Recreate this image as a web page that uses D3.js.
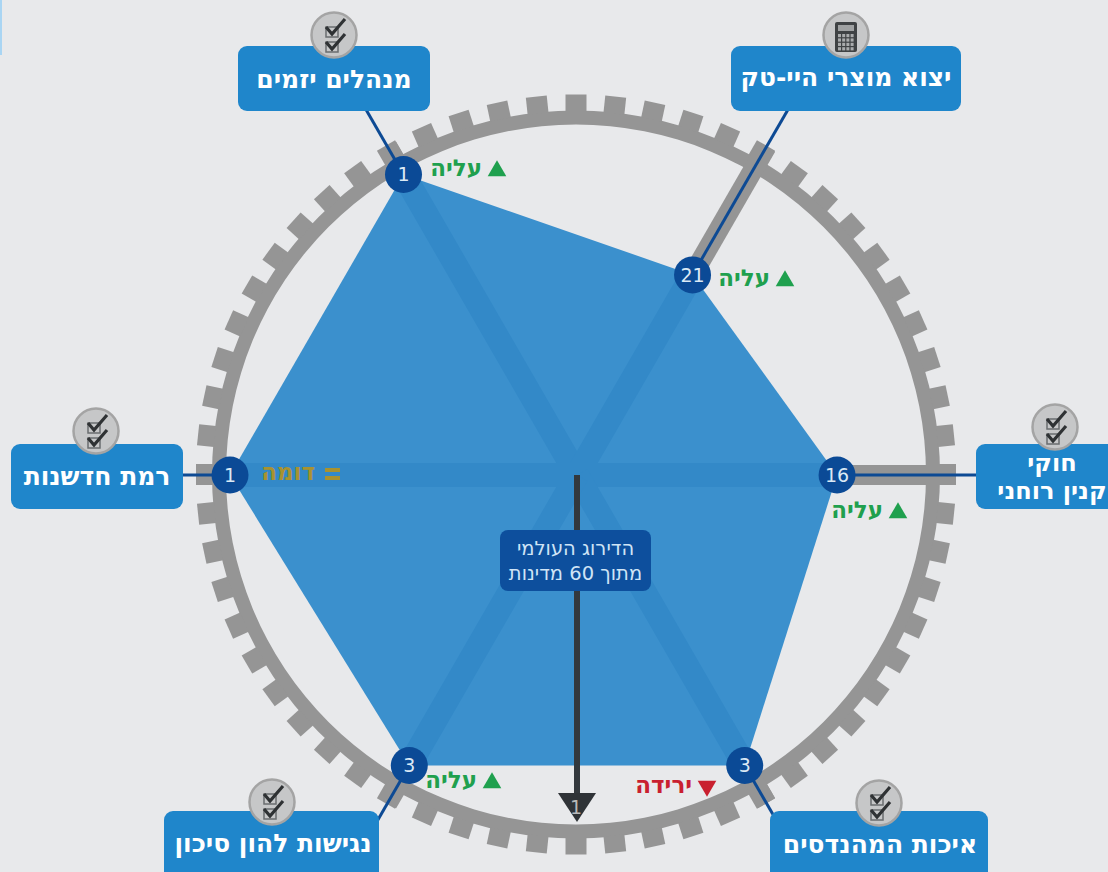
<!DOCTYPE html>
<html lang="he">
<head>
<meta charset="utf-8">
<script src="https://d3js.org/d3.v7.min.js"></script>
<style>
    html, body { margin: 0; padding: 0; background: #e8e9eb; overflow: hidden; }
    svg { display: block; font-family: "DejaVu Sans", sans-serif; }
    .boxText { fill: #fff; font-weight: bold; text-anchor: middle; direction: rtl; }
    .trendText { font-weight: bold; font-size: 23px; text-anchor: start; direction: rtl; }
    .rankText { fill: #dbe9f5; font-size: 19px; text-anchor: middle; }
    .noteText { fill: #cfe4f6; font-size: 19.5px; text-anchor: middle; direction: rtl; }
</style>
</head>
<body>
<div id="chart"></div>
<script>
// clockwise from the upper left spoke
const categories = [
    ["מנהלים יזמים"],
    ["יצוא מוצרי היי-טק"],
    ["חוקי", "קנין רוחני"],
    ["איכות המהנדסים"],
    ["נגישות להון סיכון"],
    ["רמת חדשנות"]
];
const ranks = [1, 21, 16, 3, 3, 1];
const trends = ["up", "up", "up", "down", "up", "same"];
const trendLabels = {up: "עליה", down: "ירידה", same: "דומה"};
const icons = ["check", "calc", "check", "check", "check", "check"];
const overallRank = 1;
const countryCount = 60;
const noteLines = ["הדירוג העולמי", "מתוך 60 מדינות"];

// layout only, boxes around the ring are placed by hand
const boxLayout = [
    {x: 238, y: 46, w: 192, h: 65, font: 25, textX: 334, textY: 88, icon: [334, 35], trend: [507, 169]},
    {x: 731, y: 46, w: 230, h: 65, font: 25, textX: 846, textY: 86, icon: [846, 35], trend: [795, 279]},
    {x: 976, y: 444, w: 150, h: 65, font: 24, textX: 1052, textY: 471, icon: [1055, 427], trend: [908, 511]},
    {x: 770, y: 811, w: 218, h: 80, font: 25, textX: 880, textY: 853, icon: [879, 803], trend: [717, 786]},
    {x: 164, y: 811, w: 215, h: 80, font: 25, textX: 273, textY: 852, icon: [272, 802], trend: [502, 781]},
    {x: 11, y: 444, w: 172, h: 65, font: 25, textX: 97, textY: 485, icon: [96, 431], trend: [340, 473]}
];
const trendColor = {up: "#1fa04e", down: "#c9202f", same: "#a8922f"};

const width = 1108, height = 872;
const cx = 577, cy = 475;
const ringX = 576, ringY = 474.5;
const ringInner = 350, ringOuter = 364, toothOuter = 380, connectorEnd = 440;

let svg = d3.select("#chart").append("svg")
    .attr("width", width)
    .attr("height", height);

svg.append("rect").attr("width", width).attr("height", height).attr("fill", "#e8e9eb");
svg.append("rect").attr("width", 2).attr("height", 55).attr("fill", "#a9d5f3");

let rScale = d3.scaleLinear().domain([countryCount, 1]).range([5, 347]);
let angleScale = d3.scaleLinear().domain([0, categories.length]).range([-Math.PI / 6, 2 * Math.PI - Math.PI / 6]);
let toothScale = d3.scaleLinear().domain([0, countryCount]).range([0, 360]);

function polar(i, r) {
    let a = angleScale(i);
    return [r * Math.sin(a), -r * Math.cos(a)];
}

//ring with one tooth per country
let ring = svg.append("g").attr("transform", `translate(${ringX},${ringY})`);

ring.append("path")
    .attr("d", d3.arc().innerRadius(ringInner).outerRadius(ringOuter).startAngle(0).endAngle(2 * Math.PI)())
    .attr("fill", "#959595");

ring.selectAll(".tooth")
    .data(d3.range(countryCount))
    .enter().append("rect")
    .attr("class", "tooth")
    .attr("x", -10.5)
    .attr("y", -toothOuter)
    .attr("width", 21)
    .attr("height", toothOuter - ringOuter + 1)
    .attr("transform", d => `rotate(${toothScale(d)})`)
    .attr("fill", "#959595");

let chart = svg.append("g").attr("transform", `translate(${cx},${cy})`);

//gray spokes, the polygon covers them up to each value
let spokeData = categories.map((c, i) => i);
chart.selectAll(".spoke")
    .data(spokeData)
    .enter().append("line")
    .attr("class", "spoke")
    .attr("x2", d => polar(d, toothOuter - 1)[0])
    .attr("y2", d => polar(d, toothOuter - 1)[1])
    .attr("stroke", "#959595")
    .attr("stroke-width", 20);

let radarLine = d3.line().curve(d3.curveLinearClosed);
let radarPoints = ranks.map((d, i) => polar(i, rScale(d)));

svg.append("clipPath").attr("id", "radarClip")
    .append("path").attr("d", radarLine(radarPoints));

chart.append("path")
    .attr("d", radarLine(radarPoints))
    .attr("fill", "#3b90cd");

chart.append("g").attr("clip-path", "url(#radarClip)")
    .selectAll("line")
    .data(spokeData)
    .enter().append("line")
    .attr("x2", d => polar(d, 400)[0])
    .attr("y2", d => polar(d, 400)[1])
    .attr("stroke", "#3389c8")
    .attr("stroke-width", 24);

//overall rank arrow
let arrowTip = rScale(overallRank);
chart.append("line")
    .attr("y1", 0)
    .attr("y2", arrowTip - 20)
    .attr("stroke", "#33383d")
    .attr("stroke-width", 6);

chart.append("path")
    .attr("d", d3.line()([[-19, arrowTip - 29], [19, arrowTip - 29], [0, arrowTip]]) + "Z")
    .attr("fill", "#2f3337");

chart.append("text")
    .attr("class", "rankText")
    .attr("x", -1)
    .attr("y", arrowTip - 8)
    .style("fill", "#b9b9b9")
    .text(overallRank);

//note in the middle of the arrow
svg.append("rect")
    .attr("x", 500).attr("y", 530)
    .attr("width", 151).attr("height", 61)
    .attr("rx", 8)
    .attr("fill", "#0d4f9d");

svg.selectAll(".noteText")
    .data(noteLines)
    .enter().append("text")
    .attr("class", "noteText")
    .attr("x", 575.5)
    .attr("y", (d, i) => 555 + i * 25)
    .text(d => d);

//connectors run along the spokes and end under the boxes
chart.selectAll(".connector")
    .data(ranks)
    .enter().append("line")
    .attr("class", "connector")
    .attr("x1", (d, i) => polar(i, rScale(d))[0])
    .attr("y1", (d, i) => polar(i, rScale(d))[1])
    .attr("x2", (d, i) => polar(i, connectorEnd)[0])
    .attr("y2", (d, i) => polar(i, connectorEnd)[1])
    .attr("stroke", "#0d4a94")
    .attr("stroke-width", 3);

//category boxes
let boxes = svg.selectAll(".box")
    .data(categories)
    .enter().append("g")
    .attr("class", "box");

boxes.append("rect")
    .attr("x", (d, i) => boxLayout[i].x)
    .attr("y", (d, i) => boxLayout[i].y)
    .attr("width", (d, i) => boxLayout[i].w)
    .attr("height", (d, i) => boxLayout[i].h)
    .attr("rx", 9)
    .attr("fill", "#1f86cb");

boxes.each(function (lines, i) {
    let b = boxLayout[i];
    d3.select(this).selectAll("text")
        .data(lines)
        .enter().append("text")
        .attr("class", "boxText")
        .attr("font-size", b.font)
        .attr("x", b.textX)
        .attr("y", (d, k) => b.textY + k * 28)
        .text(d => d);
});

function drawCheck(g, y) {
    g.append("rect")
        .attr("x", -8).attr("y", y - 2)
        .attr("width", 12).attr("height", 10)
        .attr("fill", "none")
        .attr("stroke", "#6a6d6f")
        .attr("stroke-width", 1.5);
    g.append("path")
        .attr("d", `M${-8},${y - 2} L${-2},${y + 5} L${11},${y - 10}`)
        .attr("fill", "none")
        .attr("stroke", "#2f3234")
        .attr("stroke-width", 3.2);
}

function drawCalculator(g) {
    g.append("rect")
        .attr("x", -11).attr("y", -13)
        .attr("width", 22).attr("height", 30)
        .attr("rx", 2)
        .attr("fill", "#3f4244");
    g.append("rect")
        .attr("x", -8).attr("y", -10)
        .attr("width", 16).attr("height", 6)
        .attr("fill", "#9fa1a2");
    g.selectAll(".key")
        .data(d3.cross(d3.range(4), d3.range(4)))
        .enter().append("rect")
        .attr("class", "key")
        .attr("x", d => -8 + d[0] * 4.2)
        .attr("y", d => -1 + d[1] * 4.4)
        .attr("width", 3)
        .attr("height", 3.2)
        .attr("fill", "#a9abac");
}

icons.forEach((type, i) => {
    let g = svg.append("g")
        .attr("transform", `translate(${boxLayout[i].icon[0]},${boxLayout[i].icon[1]})`);
    g.append("circle")
        .attr("r", 22.5)
        .attr("fill", "#c6c7c8")
        .attr("stroke", "#a4a4a4")
        .attr("stroke-width", 2.5);
    if (type == "calc") {
        drawCalculator(g);
    } else {
        drawCheck(g, -6);
        drawCheck(g, 9);
    }
});

//rank nodes
let nodes = chart.selectAll(".node")
    .data(ranks)
    .enter().append("g")
    .attr("class", "node")
    .attr("transform", (d, i) => `translate(${polar(i, rScale(d))})`);

nodes.append("circle")
    .attr("r", 18.5)
    .attr("fill", "#0b4a96");

nodes.append("text")
    .attr("class", "rankText")
    .attr("y", 7)
    .text(d => d);

//trend labels, the marker sits at the start of the rtl text
trends.forEach((t, i) => {
    let pos = boxLayout[i].trend;
    let g = svg.append("g").attr("transform", `translate(${pos[0]},${pos[1]})`);
    if (t == "same") {
        g.selectAll("rect")
            .data([-5, 3])
            .enter().append("rect")
            .attr("x", -15).attr("y", d => d)
            .attr("width", 15).attr("height", 4)
            .attr("fill", trendColor[t]);
    } else {
        g.append("path")
            .attr("d", d3.symbol().type(d3.symbolTriangle).size(150)())
            .attr("transform", t == "down" ? "translate(-10,0) rotate(180)" : "translate(-10,2)")
            .attr("fill", trendColor[t]);
    }
    g.append("text")
        .attr("class", "trendText")
        .attr("x", -25)
        .attr("y", 7)
        .attr("fill", trendColor[t])
        .text(trendLabels[t]);
});
</script>
</body>
</html>
